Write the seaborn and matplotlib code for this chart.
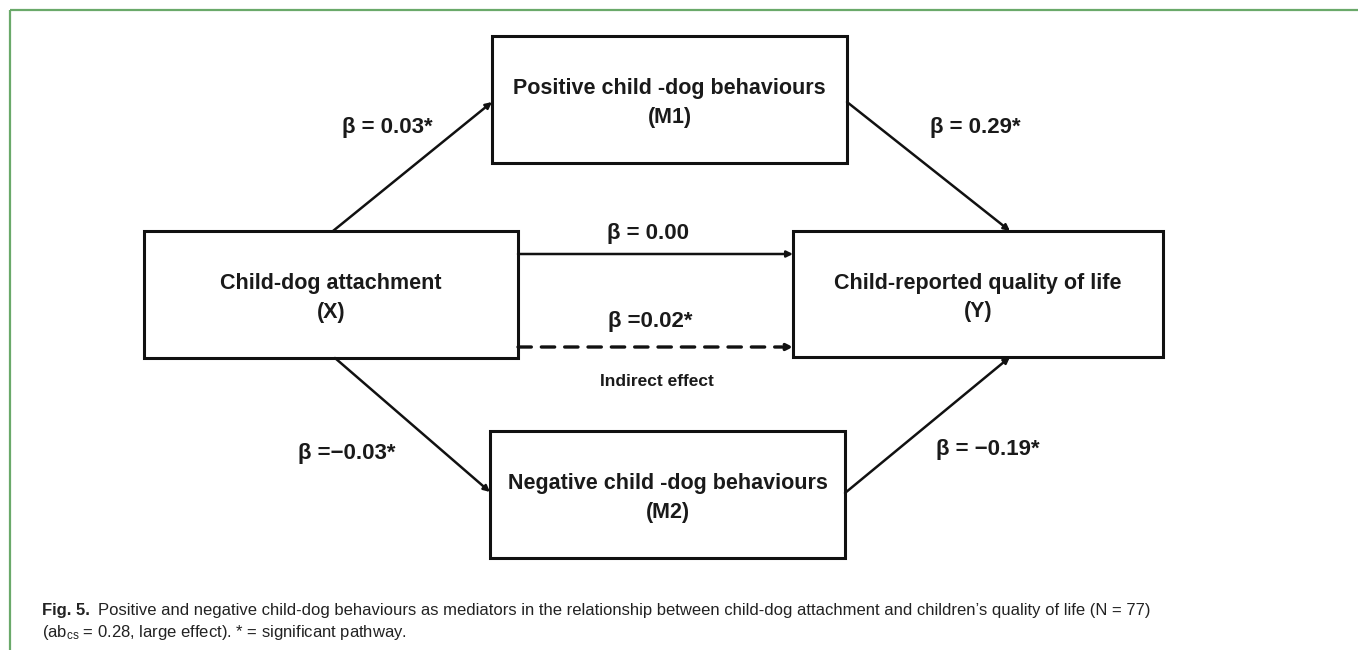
import matplotlib
matplotlib.use("Agg")
import matplotlib.pyplot as plt
import seaborn as sns
from matplotlib.patches import Rectangle

# data: node labels and path coefficients
nodes = ["M1", "X", "Y", "M2"]
node_titles = ["Positive child -dog behaviours", "Child-dog attachment",
               "Child-reported quality of life", "Negative child -dog behaviours"]
node_codes = ["(M1)", "(X)", "(Y)", "(M2)"]
paths = [("X", "M1"), ("M1", "Y"), ("X", "Y"), ("X", "Y"), ("X", "M2"), ("M2", "Y")]
path_labels = ["β = 0.03*", "β = 0.29*", "β = 0.00", "β =0.02*", "β =\u22120.03*", "β = \u22120.19*"]
path_dashed = [False, False, False, True, False, False]
caption_bold = "Fig. 5."
caption_l1 = ("Positive and negative child-dog behaviours as mediators in the relationship "
              "between child-dog attachment and children\u2019s quality of life (N = 77)")
caption_l2 = "(ab$_{cs}$ = 0.28, large effect). * = significant pathway."

# layout (pixel space, y downwards)
boxes = {"M1": (492, 36, 847, 163), "X": (144, 231, 518, 358),
         "Y": (793, 231, 1163, 357), "M2": (490, 431, 845, 558)}
ends = [((333, 231), (492, 102)), ((847, 102), (1010, 231)),
        ((518, 254), (793, 254)), ((518, 347), (793, 347)),
        ((335, 358), (490, 492)), ((845, 493), (1010, 357))]
label_pos = [(387, 128), (975, 127), (648, 233), (650, 322), (347, 453), (988, 450)]

sns.set_theme(style="white")
plt.rcParams["font.family"] = ["Liberation Sans", "DejaVu Sans"]
plt.rcParams["mathtext.default"] = "regular"

fig = plt.figure(figsize=(13.58, 6.5), dpi=100)
ax = fig.add_axes([0, 0, 1, 1])
ax.set_xlim(0, 1358)
ax.set_ylim(650, 0)
ax.axis("off")

green = "#6aa96a"
ax.plot([10, 1358], [10, 10], color=green, lw=1.6, solid_capstyle="butt")
ax.plot([10, 10], [10, 650], color=green, lw=1.6, solid_capstyle="butt")

for n, t, c in zip(nodes, node_titles, node_codes):
    x0, y0, x1, y1 = boxes[n]
    ax.add_patch(Rectangle((x0, y0), x1 - x0, y1 - y0, fill=False,
                           ec="#111111", lw=2.2, zorder=3))
    cx, cy = (x0 + x1) / 2, (y0 + y1) / 2
    ax.text(cx, cy - 11, t, ha="center", va="center", fontsize=15.5,
            fontweight="bold", color="#1a1a1a")
    ax.text(cx, cy + 18, c, ha="center", va="center", fontsize=15.5,
            fontweight="bold", color="#1a1a1a")

for (p0, p1), lab, lp, dash in zip(ends, path_labels, label_pos, path_dashed):
    ax.annotate("", xy=p1, xytext=p0,
                arrowprops=dict(arrowstyle="-|>,head_length=0.3,head_width=0.15",
                                color="#111111", lw=1.8 if not dash else 2.4,
                                linestyle=(0, (4, 3)) if dash else "-",
                                shrinkA=0, shrinkB=0))
    ax.text(lp[0], lp[1], lab, ha="center", va="center", fontsize=16,
            fontweight="bold", color="#1a1a1a")

ax.text(657, 381, "Indirect effect", ha="center", va="center", fontsize=12.5,
        fontweight="bold", color="#1a1a1a")

ax.text(42, 610, caption_bold, ha="left", va="center", fontsize=12,
        fontweight="bold", color="#222222")
ax.text(98, 610, caption_l1, ha="left", va="center", fontsize=12, color="#222222")
ax.text(42, 632, caption_l2, ha="left", va="center", fontsize=12, color="#222222")

fig.savefig("out.png", dpi=100)
